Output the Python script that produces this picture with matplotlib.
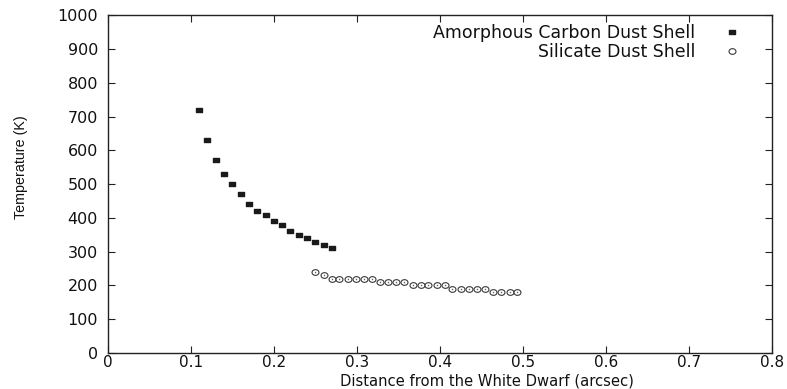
import numpy as np
import matplotlib
matplotlib.use("Agg")
import matplotlib.pyplot as plt
from matplotlib.path import Path
from matplotlib.transforms import Affine2D

plt.rcParams['font.family'] = ['DejaVu Sans']

# amorphous carbon dust shell
carbon_x = [0.11, 0.12, 0.13, 0.14, 0.15, 0.16, 0.17, 0.18, 0.19, 0.20,
            0.21, 0.22, 0.23, 0.24, 0.25, 0.26, 0.27]
carbon_t = [720, 630, 570, 530, 500, 470, 440, 420, 410, 390,
            380, 360, 350, 340, 330, 320, 310]

# silicate dust shell
silicate_x = [0.250, 0.260, 0.270, 0.279, 0.289, 0.299, 0.309, 0.318, 0.328,
              0.338, 0.347, 0.357, 0.367, 0.377, 0.386, 0.396, 0.406, 0.415,
              0.425, 0.435, 0.445, 0.454, 0.464, 0.474, 0.484, 0.493]
silicate_t = [240, 230, 220, 220, 220, 220, 220, 220, 210, 210, 210, 210,
              200, 200, 200, 200, 200, 190, 190, 190, 190, 190,
              180, 180, 180, 180]

xticks = [0, 0.1, 0.2, 0.3, 0.4, 0.5, 0.6, 0.7, 0.8]
xticklabels = ['0', '0.1', '0.2', '0.3', '0.4', '0.5', '0.6', '0.7', '0.8']
yticks = [0, 100, 200, 300, 400, 500, 600, 700, 800, 900, 1000]

# flat rectangles and squashed circles, like the original plot
rect = Path([(-1, -0.64), (1, -0.64), (1, 0.64), (-1, 0.64), (-1, -0.64)],
            [Path.MOVETO, Path.LINETO, Path.LINETO, Path.LINETO, Path.CLOSEPOLY])
ellipse = Path.unit_circle().transformed(Affine2D().scale(1.0, 0.82))

fig = plt.figure(figsize=(7.87, 3.89), dpi=100)
ax = fig.add_axes([0.137, 0.0925, 0.844, 0.8685])

ax.plot(carbon_x, carbon_t, linestyle='none', marker=rect, markersize=5,
        color='#1a1a1a', label='Amorphous Carbon Dust Shell')
ax.plot(silicate_x, silicate_t, linestyle='none', marker=ellipse, markersize=5,
        markerfacecolor='white', markeredgecolor='#3a3a3a', markeredgewidth=0.8,
        label='Silicate Dust Shell')
# small dot in the middle of each circle
ax.plot(silicate_x, silicate_t, linestyle='none', marker='o', markersize=1.1,
        markerfacecolor='#666666', markeredgewidth=0)

ax.set_xlim(0, 0.8)
ax.set_ylim(0, 1000)
ax.set_xticks(xticks)
ax.set_xticklabels(xticklabels)
ax.set_yticks(yticks)

ax.tick_params(direction='in', top=True, right=True, length=5, width=0.8,
               labelsize=11, colors='#222222', labelcolor='#111111')
ax.tick_params(axis='x', pad=1.2)
ax.tick_params(axis='y', pad=7, labelsize=11.5)
for s in ax.spines.values():
    s.set_linewidth(1.0)
    s.set_color('#222222')

ax.set_xlabel('Distance from the White Dwarf (arcsec)', fontsize=10.6,
              color='#111111')
ax.xaxis.set_label_coords(0.571, -0.083)
ax.xaxis.label.set_va('center')
ax.set_ylabel('Temperature (K)', fontsize=10.3, color='#111111',
              family=['Liberation Sans Narrow', 'Liberation Sans'])
ax.yaxis.set_label_coords(-0.13, 0.55)
ax.yaxis.label.set_va('center')

leg = ax.legend(loc='upper right', bbox_to_anchor=(0.963, 0.993), borderaxespad=0,
                frameon=False, markerfirst=False, fontsize=12.5,
                handlelength=1.0, handletextpad=1.6,
                labelspacing=0.05, markerscale=1.0)
for t in leg.get_texts():
    t.set_color('#111111')

fig.savefig('out.png', dpi=100)
